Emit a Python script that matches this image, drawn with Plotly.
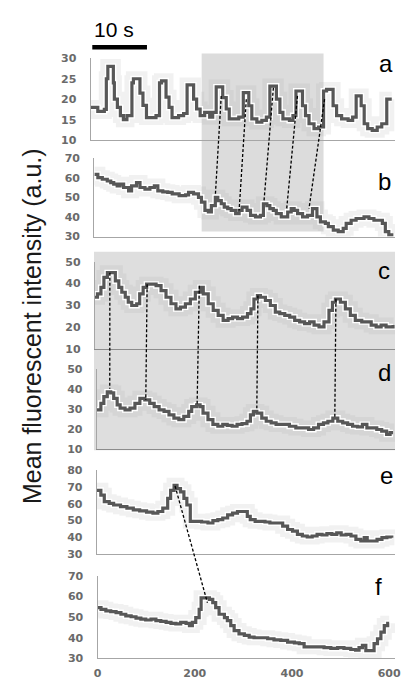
import plotly.graph_objects as go

# ---------------- data (time in frames, mean fluorescent intensity) ----------------
t_a = [0, 14, 27, 31, 34, 42, 45, 47, 53, 59, 65, 72, 82, 85, 95, 98, 104, 111, 124, 130,
       137, 141, 147, 150, 156, 162, 175, 185, 192, 202, 205, 211, 218, 227, 237, 243, 250, 260, 263, 270,
       276, 286, 295, 304, 312, 315, 321, 331, 341, 350, 357, 367, 370, 377, 383, 396, 403, 409, 419, 422,
       428, 435, 445, 454, 464, 470, 477, 483, 490, 500, 513, 522, 529, 535, 539, 545, 552, 561, 571, 580,
       590, 600]
v_a = [18, 17, 17.5, 25, 28, 28, 24, 20, 18, 16, 15, 16, 24, 25, 25, 21.5, 18.5, 15.5, 15.5, 16,
       24, 24.5, 24.5, 20.5, 18, 15.5, 16, 16.5, 23.5, 23.5, 20, 17.6, 16, 16.8, 15.6, 16.8, 23, 23, 20.4, 17.6,
       15.2, 15.2, 15.6, 21.6, 21.6, 18.4, 15.2, 14.4, 14.8, 15.6, 23.2, 23.2, 20, 16.8, 15.2, 14.8, 16, 22, 22, 18.4,
       16, 14, 12.8, 13.2, 22, 22.4, 22.4, 18.4, 16, 15.2, 14.8, 15.6, 20.8, 20.8, 18.4, 14, 12.8, 12.4, 13.2, 14,
       20, 20]

t_b = [0, 7, 16, 26, 33, 39, 46, 52, 59, 69, 75, 85, 92, 102, 112, 121, 128, 138, 148, 157,
       171, 184, 190, 200, 210, 216, 223, 230, 236, 244, 249, 256, 262, 269, 276, 285, 292, 298, 308, 315,
       325, 335, 341, 348, 354, 361, 367, 377, 384, 390, 397, 403, 410, 420, 430, 440, 446, 449, 456, 466,
       472, 482, 492, 502, 508, 518, 528, 538, 544, 554, 564, 574, 581, 587, 594, 600]
v_b = [61.7, 60, 59.2, 58.3, 57.5, 56.7, 55.8, 56.7, 55, 53.3, 55.8, 57.5, 55, 54.2, 55, 55.8, 53.3, 52.8, 52.5, 51.7,
       50.8, 51.2, 52.5, 51.7, 50, 47.5, 43.3, 42.5, 45.8, 50, 48.3, 46.7, 45, 44.2, 43.3, 41.7, 43.3, 45, 43.3, 40.8,
       40, 40.8, 46.7, 45.8, 44.2, 43.3, 41.7, 40, 40, 42.5, 44.2, 43.3, 41.7, 40, 40.8, 44.2, 44.2, 40, 37.5, 36.7,
       35, 33.3, 32.5, 34.2, 36.7, 38.3, 39.2, 39.2, 40, 39.2, 38.3, 38.3, 36.7, 32.5, 30.8, 31.7]

t_c = [0, 5, 12, 18, 25, 35, 41, 48, 54, 61, 67, 74, 84, 90, 97, 104, 113, 123, 133, 143,
       153, 163, 172, 182, 192, 202, 212, 218, 228, 238, 248, 258, 268, 277, 287, 297, 307, 314, 320, 327,
       333, 343, 353, 363, 372, 382, 392, 402, 412, 422, 432, 441, 451, 461, 471, 478, 484, 494, 504, 514,
       524, 537, 546, 556, 566, 576, 586, 596, 600]
v_c = [33.7, 35.2, 38.2, 42.8, 45, 45, 41.2, 38.2, 36, 33.7, 31.4, 29.9, 30.7, 35.2, 38.2, 39.7, 39.7, 39, 36.7, 33.7,
       30.7, 28.4, 29.2, 30.7, 32.9, 36, 38.2, 35.2, 30.7, 27.7, 25.4, 23.1, 23.9, 24.6, 23.9, 24.6, 26.2, 28.4, 32.9, 34.5,
       33.7, 32.2, 29.9, 26.9, 26.2, 25.4, 24.6, 23.1, 22.4, 21.6, 22.4, 20.9, 20.1, 22.4, 27.7, 31.4, 32.9, 31.4, 28.4, 25.4,
       23.1, 22.4, 22.4, 20.9, 20.1, 20.9, 20.1, 20.1, 20.9]

t_d = [0, 8, 14, 21, 28, 34, 41, 47, 57, 67, 77, 87, 97, 107, 116, 126, 136, 146, 156, 166,
       176, 186, 192, 202, 209, 215, 225, 235, 245, 255, 264, 274, 284, 294, 304, 311, 317, 324, 334, 343,
       353, 363, 376, 390, 403, 416, 429, 439, 449, 459, 468, 478, 488, 498, 508, 518, 528, 538, 547, 557,
       567, 577, 587, 594, 600]
v_d = [29.7, 32.9, 36.2, 38.6, 38.1, 35.4, 32.1, 30.5, 29.7, 30.5, 32.9, 35.4, 34.6, 32.9, 31.3, 29.7, 28.9, 27.2, 25.6, 24.8,
       26.4, 28.9, 31.3, 32.1, 31.3, 28, 24.8, 22.4, 21.5, 22.4, 21.9, 21.5, 22.4, 22.8, 24, 27.2, 28.9, 28, 25.6, 24,
       23.2, 22.4, 22.4, 21.5, 20.7, 20.7, 19.9, 20.7, 22.4, 23.2, 24, 25.6, 24, 23.2, 22.4, 21.5, 21.2, 22.4, 20.7, 20.7,
       19.9, 19.1, 17.5, 18.3, 18.3]

t_e = [0, 8, 15, 25, 34, 48, 61, 74, 87, 101, 114, 124, 134, 144, 150, 157, 163, 170, 177, 183,
       190, 200, 213, 226, 236, 246, 256, 266, 276, 286, 296, 306, 312, 322, 332, 342, 352, 362, 372, 378,
       388, 398, 408, 418, 428, 438, 448, 458, 468, 478, 488, 497, 507, 517, 527, 537, 544, 550, 560, 570,
       580, 590, 600]
v_e = [68, 65.1, 61.2, 60.2, 59.2, 58.2, 57.3, 56.3, 55.7, 54.9, 54.3, 55.3, 57.3, 63.1, 68, 71, 69, 67.1, 63.1, 59.2,
       49.4, 49.4, 49, 48.4, 49.8, 50.4, 51.4, 53.3, 54.3, 55.3, 55.3, 52.4, 50.4, 49.4, 49.4, 49, 48.4, 48.4, 48.4, 46.5,
       44.5, 43.5, 41.6, 40.6, 40, 40.6, 41.6, 41.2, 42, 41.6, 42.5, 41.2, 41.6, 40.6, 38.6, 37.6, 39.6, 37.6, 37.6, 38.6,
       39.6, 40, 39.6]

t_f = [0, 7, 17, 27, 38, 48, 58, 69, 79, 89, 99, 110, 120, 130, 141, 151, 161, 171, 182, 189,
       195, 202, 209, 213, 223, 230, 237, 243, 250, 261, 267, 274, 281, 291, 302, 312, 322, 336, 350, 363,
       377, 391, 405, 415, 425, 439, 453, 466, 480, 494, 507, 521, 531, 538, 545, 552, 562, 569, 576, 583,
       590, 597, 600]
v_f = [54.6, 53.8, 53, 52.7, 52.2, 51.4, 50.6, 50.2, 49.5, 49, 48.6, 49, 48.3, 47.9, 47.5, 47, 46.7, 47.5, 47, 45.9,
       47.5, 49.8, 53.8, 59.4, 59.4, 58.6, 57, 54.6, 51.4, 49.8, 48.3, 45.9, 43.5, 41.9, 41.1, 40.3, 40, 40, 39.5, 39,
       38.7, 37.9, 37.5, 37.1, 35.6, 35.6, 35.6, 35.2, 34.8, 35.2, 34.8, 34.3, 34, 35.2, 36.3, 33.7, 33.7, 37.1, 39.5, 42.7,
       45.9, 47, 47]

panel_letters = ["a", "b", "c", "d", "e", "f"]
y_ticks = [[10, 15, 20, 25, 30], [30, 40, 50, 60, 70], [10, 20, 30, 40, 50],
           [10, 20, 30, 40, 50], [30, 40, 50, 60, 70, 80], [30, 40, 50, 60, 70]]
x_ticks = [0, 200, 400, 600]

# peak connections: (time, value) in upper panel -> (time, value) in lower panel
conn_ab = [((260, 20.8), (244, 50.8)), ((310, 20.0), (292, 43.3)), ((364, 22.8), (342, 47.5)),
           ((412, 20.8), (388, 44.2)), ((466, 20.0), (433, 44.2))]
conn_cd = [((30, 45.0), (26, 40.2)), ((105, 39.7), (99, 34.6)), ((210, 39.0), (203, 32.1)),
           ((328, 34.5), (324, 30.5)), ((485, 33.0), (482, 25.6))]
conn_ef = [((159, 70.6), (226, 57.0))]

shade_ab_t = (221, 464)          # highlighted time window of panels a/b
scale_bar_t = (3, 112)           # 10 s scale bar on the time axis of panel a

# ---------------- layout geometry (pixels) ----------------
W, H = 401, 683
series = [(t_a, v_a), (t_b, v_b), (t_c, v_c), (t_d, v_d), (t_e, v_e), (t_f, v_f)]
x_left = [89, 92.7, 93.3, 95.3, 95.3, 96]          # y-axis line position
x_end = [397.7, 397.7, 399, 399, 397.7, 395]       # pixel of t = 600
y_top = [53.3, 155, 260.7, 370, 473.3, 581]
y_bot = [136.7, 235, 349.5, 452, 558.3, 665]
letter_y = [59, 179, 270, 374, 479, 592]
letter_x = [392, 390, 390, 390, 392, 384]

fig = go.Figure()
axes = []
for i in range(6):
    xd = [x_left[i] / W, 1.0]
    xr = [0, 600 * (W - x_left[i]) / (x_end[i] - x_left[i])]
    yd = [1 - y_bot[i] / H, 1 - y_top[i] / H]
    yr = [y_ticks[i][0], y_ticks[i][-1]]
    axes.append((xd, xr, yd, yr))

def to_paper(i, t, v):
    xd, xr, yd, yr = axes[i]
    x = xd[0] + (t - xr[0]) / (xr[1] - xr[0]) * (xd[1] - xd[0])
    y = yd[0] + (v - yr[0]) / (yr[1] - yr[0]) * (yd[1] - yd[0])
    return x, y

line_col = "#575757"
for i, (t, v) in enumerate(series):
    xa = "x" if i == 0 else f"x{i+1}"
    ya = "y" if i == 0 else f"y{i+1}"
    fig.add_trace(go.Scatter(x=t, y=v, xaxis=xa, yaxis=ya, mode="lines", line_shape="hv",
                             line=dict(color="rgba(170,170,170,0.16)", width=15),
                             hoverinfo="skip", showlegend=False))
    fig.add_trace(go.Scatter(x=t, y=v, xaxis=xa, yaxis=ya, mode="lines", line_shape="hv",
                             line=dict(color="white", width=6),
                             hoverinfo="skip", showlegend=False))
    fig.add_trace(go.Scatter(x=t, y=v, xaxis=xa, yaxis=ya, mode="lines", line_shape="hv",
                             line=dict(color=line_col, width=3.2),
                             showlegend=False))

layout = dict(width=W, height=H, margin=dict(l=0, r=0, t=0, b=0),
              paper_bgcolor="white", plot_bgcolor="rgba(0,0,0,0)", showlegend=False)
tickfont = dict(family="DejaVu Sans", size=11, color="#6a6a6a", weight="bold")
for i in range(6):
    xd, xr, yd, yr = axes[i]
    sx = "" if i == 0 else str(i + 1)
    axis_col = "#8c8c8c" if i in (2, 3) else "#a6a6a6"
    layout["xaxis" + sx] = dict(domain=xd, range=xr, anchor="y" + sx, showline=True,
                                linecolor=axis_col, linewidth=1.4, showgrid=False, zeroline=False,
                                ticks="", showticklabels=(i == 5), tickvals=x_ticks,
                                tickfont=tickfont, ticklabelstandoff=4, ticklabeloverflow="allow")
    layout["yaxis" + sx] = dict(domain=yd, range=yr, anchor="x" + sx, showline=True,
                                linecolor="#a6a6a6", linewidth=1.4, showgrid=False, zeroline=False,
                                ticks="", tickvals=y_ticks[i], tickfont=tickfont, ticklabelstandoff=11,
                                ticklabeloverflow="allow")
fig.update_layout(**layout)

shapes = []
# highlighted window a/b
x0, y1 = to_paper(0, shade_ab_t[0], 31.2)
x1, _ = to_paper(0, shade_ab_t[1], 31.2)
_, y0 = to_paper(1, 0, 32.5)
shapes.append(dict(type="rect", xref="paper", yref="paper", x0=x0, x1=x1, y0=y0, y1=y1,
                   fillcolor="#dcdcdc", line=dict(width=0), layer="below"))
# grey background c/d
cx0, cy1 = to_paper(2, -2, 54.6)
_, cy0 = to_paper(3, 0, 9.6)
shapes.append(dict(type="rect", xref="paper", yref="paper", x0=cx0, x1=1, y0=cy0, y1=cy1,
                   fillcolor="#dedede", line=dict(width=0), layer="below"))
# dashed connectors
for (pu, pl), (iu, il) in [(c, (0, 1)) for c in conn_ab] + [(c, (2, 3)) for c in conn_cd] + [(c, (4, 5)) for c in conn_ef]:
    xa0, ya0 = to_paper(iu, *pu)
    xa1, ya1 = to_paper(il, *pl)
    shapes.append(dict(type="line", xref="paper", yref="paper", x0=xa0, y0=ya0, x1=xa1, y1=ya1,
                       line=dict(color="black", width=1.3, dash="3px,2px"), layer="above"))
# scale bar
sb0, _ = to_paper(0, scale_bar_t[0], 0)
sb1, _ = to_paper(0, scale_bar_t[1], 0)
shapes.append(dict(type="line", xref="paper", yref="paper", x0=sb0, x1=sb1,
                   y0=1 - 42 / H, y1=1 - 42 / H, line=dict(color="black", width=4.5)))
fig.update_layout(shapes=shapes)

ann = []
for i, L in enumerate(panel_letters):
    ann.append(dict(text=L, x=letter_x[i] / W, y=1 - letter_y[i] / H, xref="paper", yref="paper",
                    showarrow=False, xanchor="center", yanchor="middle",
                    font=dict(family="Liberation Sans, Arial", size=24, color="black")))
ann.append(dict(text="Mean fluorescent intensity (a.u.)", textangle=-90, x=28 / W, y=1 - 326 / H,
                xref="paper", yref="paper", showarrow=False, xanchor="center", yanchor="middle",
                font=dict(family="Liberation Sans, Arial", size=25, color="#1a1a1a")))
ann.append(dict(text="10 s", x=sb0, y=1 - 24 / H, xref="paper", yref="paper", showarrow=False,
                xanchor="left", yanchor="middle",
                font=dict(family="Liberation Sans, Arial", size=21, color="black")))
fig.update_layout(annotations=ann)

fig.write_html("out.html", config={"displayModeBar": False},
               post_script="document.body.style.margin='0';document.body.style.overflow='hidden';")
